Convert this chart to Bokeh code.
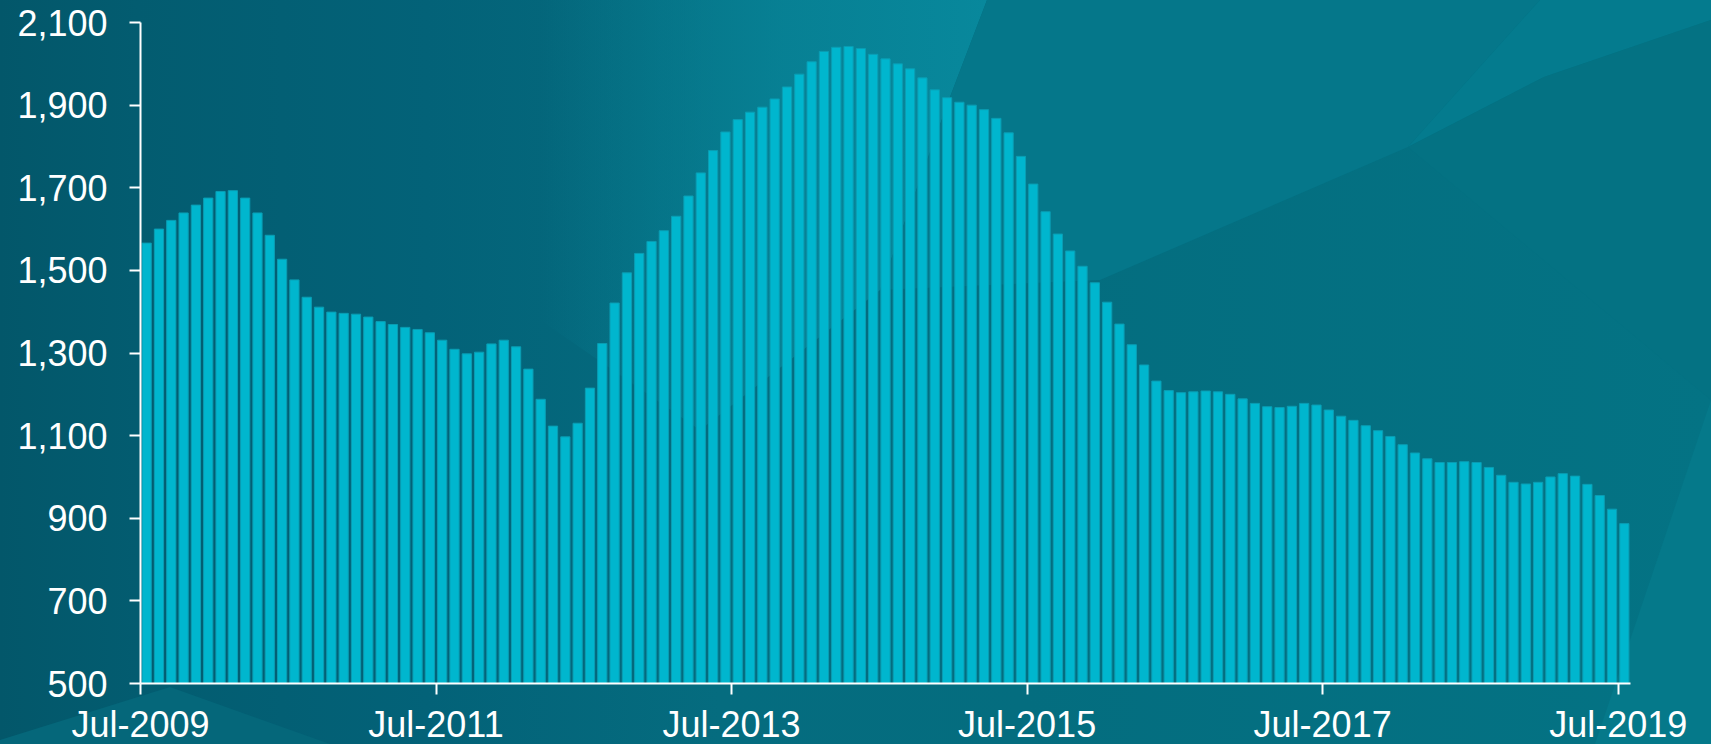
from urllib.parse import quote
from bokeh.plotting import figure
from bokeh.models import FixedTicker, NumeralTickFormatter, Range1d
from bokeh.embed import file_html
from bokeh.resources import INLINE

# Monthly values, Jul-2009 .. Jul-2019
values = [1566, 1600, 1621, 1639, 1658, 1675, 1691, 1693, 1675, 1639,
          1585, 1527, 1477, 1435, 1411, 1399, 1396, 1394, 1387, 1376,
          1369, 1362, 1357, 1349, 1331, 1309, 1298, 1302, 1322, 1331,
          1315, 1261, 1188, 1123, 1097, 1130, 1215, 1323, 1421, 1494,
          1541, 1570, 1596, 1631, 1680, 1736, 1790, 1835, 1865, 1883,
          1895, 1915, 1944, 1975, 2005, 2030, 2040, 2042, 2037, 2023,
          2012, 2000, 1988, 1966, 1937, 1918, 1907, 1900, 1889, 1868,
          1833, 1776, 1709, 1642, 1588, 1547, 1510, 1470, 1423, 1370,
          1320, 1271, 1232, 1209, 1204, 1206, 1208, 1206, 1200, 1189,
          1178, 1170, 1168, 1171, 1178, 1174, 1162, 1147, 1137, 1124,
          1112, 1098, 1078, 1058, 1044, 1035, 1035, 1037, 1035, 1023,
          1004, 987, 983, 987, 1000, 1008, 1002, 982, 955, 922, 887]

tick_months = [0, 24, 48, 72, 96, 120]
tick_labels = ["Jul-2009", "Jul-2011", "Jul-2013", "Jul-2015", "Jul-2017", "Jul-2019"]
y_ticks = [500, 700, 900, 1100, 1300, 1500, 1700, 1900, 2100]

x = [i + 0.5 for i in range(len(values))]

p = figure(frame_width=1490, frame_height=661, output_backend="svg", toolbar_location=None,
           x_range=Range1d(0, len(values)), y_range=Range1d(500, 2100),
           min_border_left=132, min_border_right=73, min_border_top=20, min_border_bottom=0)

p.vbar(x=x, top=values, bottom=500, width=0.75,
       fill_color="#00b6ce", line_color="#0a9db3", line_width=1)

p.background_fill_alpha = 0
p.border_fill_alpha = 0
p.outline_line_color = None
p.grid.visible = False

FONT = "Liberation Sans"
for ax in (p.xaxis[0], p.yaxis[0]):
    ax.axis_line_color = "white"
    ax.axis_line_width = 2
    ax.major_tick_line_color = "white"
    ax.major_tick_line_width = 2
    ax.major_tick_in = 0
    ax.major_tick_out = 11
    ax.minor_tick_line_color = None
    ax.major_label_text_color = "white"
    ax.major_label_text_font = FONT
    ax.major_label_text_font_size = "36px"

p.yaxis[0].ticker = FixedTicker(ticks=y_ticks)
p.yaxis[0].formatter = NumeralTickFormatter(format="0,0")
p.yaxis[0].major_label_standoff = 22

p.xaxis[0].ticker = FixedTicker(ticks=tick_months)
p.xaxis[0].major_label_overrides = {m: l for m, l in zip(tick_months, tick_labels)}
p.xaxis[0].major_label_standoff = 9

# decorative page background (teal facets)
bg_svg = (
    "<svg xmlns='http://www.w3.org/2000/svg' width='1711' height='744' viewBox='0 0 1711 744' preserveAspectRatio='none'>"
    "<defs>"
    "<linearGradient id='g' x1='0' x2='1' y1='0' y2='0'>"
    "<stop offset='0' stop-color='#03576a'/><stop offset='0.08' stop-color='#035c70'/>"
    "<stop offset='0.25' stop-color='#036278'/><stop offset='0.42' stop-color='#056c7f'/>"
    "<stop offset='0.6' stop-color='#046d7f'/><stop offset='1' stop-color='#047384'/>"
    "</linearGradient>"
    "<linearGradient id='w' x1='0' x2='1' y1='0' y2='0'>"
    "<stop offset='0' stop-color='#08879b' stop-opacity='0'/>"
    "<stop offset='0.55' stop-color='#08879b' stop-opacity='0.75'/>"
    "<stop offset='1' stop-color='#08889c' stop-opacity='1'/>"
    "</linearGradient>"
    "</defs>"
    "<rect width='1711' height='744' fill='url(#g)'/>"
    "<polygon points='540,0 987,0 950,97 880,290 700,430 540,320' fill='url(#w)'/>"
    "<polygon points='987,0 1540,0 1408,147 1100,280 880,290 950,97' fill='#05778a'/>"
    "<polygon points='1540,0 1711,0 1711,20 1544,77 1408,147' fill='#047b8e'/>"
    "<polygon points='1711,20 1711,400 1408,147 1544,77' fill='#047283'/>"
    "<polygon points='1711,400 1711,744 1595,744' fill='#05798a'/>"
    "<polygon points='0,744 0,740 170,687 330,744' fill='#05677a'/>"
    "</svg>"
)
bg_url = "data:image/svg+xml;charset=utf-8," + quote(bg_svg)

html = file_html(p, INLINE)
style = ("<style>html,body{overflow:hidden;}"
         "html{background-color:#05687a;background-image:url(\"" + bg_url + "\");"
         "background-repeat:no-repeat;background-size:1711px 744px;}"
         "body{margin:2px 0 0 8px;background:transparent;}</style></head>")
html = html.replace("</head>", style, 1)
open("out.html", "w").write(html)
